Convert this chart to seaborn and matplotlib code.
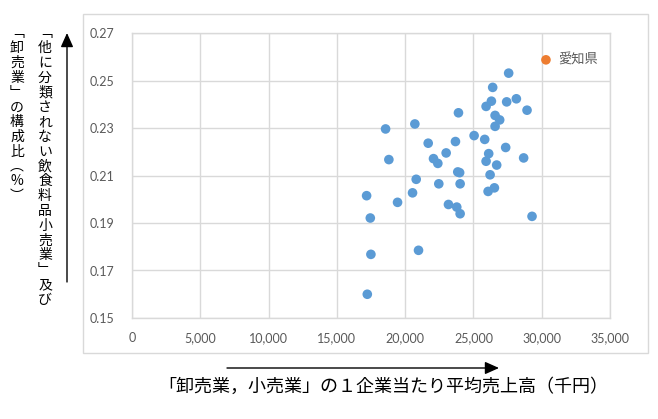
import pandas as pd
import seaborn as sns
import matplotlib.pyplot as plt
from matplotlib.patches import Rectangle, FancyArrowPatch

# average sales per enterprise (thousand yen) and share of the two industries
sales = [27580, 26410, 26315, 25927, 27434, 28143, 28925, 23904, 26586, 26922,
         26586, 18567, 20711, 25050, 25826, 21688, 23684, 27361, 18808, 22076,
         22394, 23003, 26118, 25927, 26703, 28677, 23853, 23990, 26220, 20810,
         22464, 24026, 17178, 19444, 20541, 26074, 26535, 23172, 23779, 24026,
         29291, 17449, 17493, 20979, 17229]
share = [0.2531, 0.2471, 0.2413, 0.2391, 0.2410, 0.2423, 0.2375, 0.2364, 0.2353, 0.2334,
         0.2307, 0.2296, 0.2317, 0.2268, 0.2252, 0.2236, 0.2243, 0.2218, 0.2167, 0.2171,
         0.2151, 0.2195, 0.2192, 0.2160, 0.2144, 0.2174, 0.2115, 0.2112, 0.2103, 0.2084,
         0.2065, 0.2065, 0.2015, 0.1987, 0.2027, 0.2033, 0.2048, 0.1978, 0.1967, 0.1939,
         0.1928, 0.1921, 0.1768, 0.1785, 0.1600]

# Aichi is highlighted
aichi_sales = 30310
aichi_share = 0.2587
aichi_name = "愛知県"

xticks = [0, 5000, 10000, 15000, 20000, 25000, 30000, 35000]
yticks = [0.15, 0.17, 0.19, 0.21, 0.23, 0.25, 0.27]

xlabel = "「卸売業，小売業」の１企業当たり平均売上高（千円）"
ylabel_right = "﹁他に分類されない飲食料品小売業﹂及び"
ylabel_left = "﹁卸売業﹂の構成比︵%︶"

df = pd.DataFrame({
    "sales": sales + [aichi_sales],
    "share": share + [aichi_share],
    "group": ["other"] * len(sales) + ["aichi"],
})

sns.set_theme(style="white")
plt.rcParams['font.family'] = ['Lato', 'Noto Sans CJK JP', 'DejaVu Sans']

grid_color = "#D9D9D9"
text_gray = "#595959"

fig = plt.figure(figsize=(6.58, 4.19), dpi=100)
ax = fig.add_axes([132 / 658, 1 - 318 / 419, (610 - 132) / 658, (318 - 33) / 419])

sns.scatterplot(data=df, x="sales", y="share", hue="group",
                palette={"other": "#5B9BD5", "aichi": "#ED7D31"},
                s=48, edgecolor="none", legend=False, ax=ax, zorder=3)

ax.annotate(aichi_name, (aichi_sales, aichi_share), xytext=(9, 0),
            textcoords="offset points", va="center", ha="left",
            fontsize=9.5, color=text_gray, family=['Noto Sans CJK JP'])

ax.set_xlim(0, 35000)
ax.set_ylim(0.15, 0.27)
ax.set_xticks(xticks)
ax.set_xticklabels([f"{v:,}" for v in xticks])
ax.set_yticks(yticks)
ax.set_yticklabels([f"{v:.2f}" for v in yticks])
ax.tick_params(axis="both", length=0, labelsize=9, colors=text_gray)
ax.tick_params(axis="x", pad=10)
ax.tick_params(axis="y", pad=13)
ax.grid(True, color=grid_color, linewidth=1)
for sp in ax.spines.values():
    sp.set_color(grid_color)
    sp.set_linewidth(1)
ax.set_xlabel("")
ax.set_ylabel("")

# chart area border
fig.add_artist(Rectangle((83 / 658, 1 - 353 / 419), 565 / 658, 339 / 419,
                         transform=fig.transFigure, fill=False,
                         edgecolor=grid_color, linewidth=1))

# arrows
arr_y = FancyArrowPatch((67 / 658, 1 - 282 / 419), (67 / 658, 1 - 33 / 419),
                        transform=fig.transFigure, arrowstyle="-|>,head_length=0.85,head_width=0.38",
                        mutation_scale=10, color="black", linewidth=1, shrinkA=0, shrinkB=0)
arr_x = FancyArrowPatch((227 / 658, 1 - 368 / 419), (499 / 658, 1 - 368 / 419),
                        transform=fig.transFigure, arrowstyle="-|>,head_length=0.85,head_width=0.38",
                        mutation_scale=10, color="black", linewidth=1, shrinkA=0, shrinkB=0)
fig.add_artist(arr_y)
fig.add_artist(arr_x)

# x label
fig.text(158 / 658, 1 - 387 / 419, xlabel, ha="left", va="center",
         fontsize=13, color="black", family=['Noto Sans CJK JP'])

# vertical y label, one character at a time
step = 14.8
for col_x, label in [(45, ylabel_right), (17, ylabel_left)]:
    for i, ch in enumerate(label):
        fig.text(col_x / 658, 1 - (26 + step / 2 + i * step) / 419, ch,
                 ha="center", va="center", fontsize=10, color="black",
                 family=['Noto Sans CJK JP', 'DejaVu Sans'])

fig.savefig("out.png", dpi=100)
